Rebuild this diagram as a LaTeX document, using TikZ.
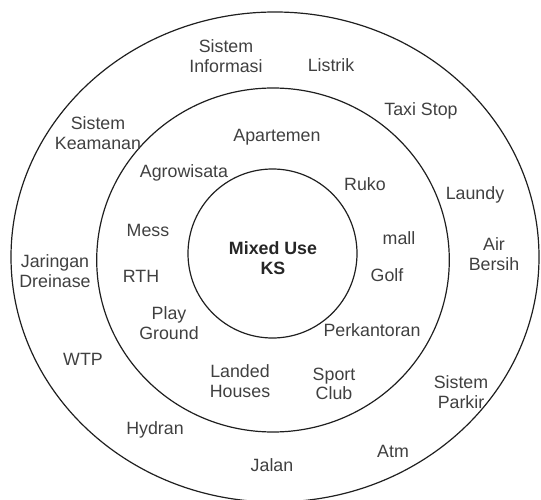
\documentclass[tikz,border=0pt]{standalone}
\usepackage{fontspec}
\setmainfont{Liberation Sans}
\begin{document}
\begin{tikzpicture}[x=1pt,y=-1pt,
  ring/.style={draw=black!88,line width=1.2pt},
  lbl/.style={text=black!75,font=\fontsize{17.8}{19.5}\selectfont,align=center,inner sep=0pt},
  core/.style={lbl,font=\fontsize{17.8}{19.5}\selectfont\bfseries,text=black!85}]
\useasboundingbox (0,0) rectangle (541,500);
\begin{scope}
\clip (0,0) rectangle (541,500);
\draw[ring] (275,257) ellipse [x radius=264, y radius=245];
\draw[ring] (273,260) ellipse [x radius=176.3, y radius=172];
\draw[ring] (272.5,253.5) circle [radius=84.5];
\end{scope}
% core
\node[core] (ks) at (273,258) {Mixed Use\\KS};
% middle ring
\node[lbl] (apartemen) at (277,137) {Apartemen};
\node[lbl] (agro) at (184,173) {Agrowisata};
\node[lbl] (ruko) at (365,184) {Ruko};
\node[lbl] (mess) at (148,230) {Mess};
\node[lbl] (mall) at (399,238) {mall};
\node[lbl] (rth) at (141,276) {RTH};
\node[lbl] (golf) at (387,275) {Golf};
\node[lbl] (play) at (169,323) {Play\\Ground};
\node[lbl] (kantor) at (372,330) {Perkantoran};
\node[lbl] (landed) at (240,381) {Landed\\Houses};
\node[lbl] (sport) at (334,384) {Sport\\Club};
% outer ring
\node[lbl] (info) at (226,56) {Sistem\\Informasi};
\node[lbl] (listrik) at (331,65) {Listrik};
\node[lbl] (taxi) at (421,111) {Taxi Stop};
\node[lbl] (aman) at (98,133) {Sistem\\Keamanan};
\node[lbl] (laundy) at (475,195) {Laundy};
\node[lbl] (air) at (494,254) {Air\\Bersih};
\node[lbl] (drain) at (55,271) {Jaringan\\Dreinase};
\node[lbl] (wtp) at (83,359) {WTP};
\node[lbl] (parkir) at (461,392) {Sistem\\Parkir};
\node[lbl] (hydran) at (155,430) {Hydran};
\node[lbl] (atm) at (393,451) {Atm};
\node[lbl] (jalan) at (272,465) {Jalan};
\end{tikzpicture}
\end{document}
